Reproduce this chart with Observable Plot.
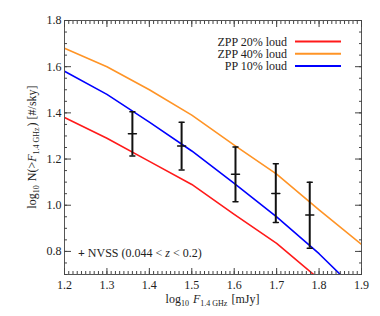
<!DOCTYPE html>
<html><head><meta charset="utf-8">
<script src="https://cdn.jsdelivr.net/npm/d3@7"></script>
<script src="https://cdn.jsdelivr.net/npm/@observablehq/plot@0.6"></script>
<style>
body{margin:0;background:#fff;}
svg{font-family:"Liberation Serif","Times New Roman",serif;}
</style>
</head><body><div id="chart"></div>
<script>
// ---- data ----
const fluxGrid = [1.2, 1.3, 1.4, 1.5, 1.6, 1.7, 1.8, 1.9];
const zpp20 = [1.38, 1.29, 1.19, 1.09, 0.96, 0.835, 0.68, null];
const zpp40 = [1.68, 1.60, 1.50, 1.39, 1.26, 1.135, 0.98, 0.83];
const pp10  = [1.58, 1.48, 1.36, 1.235, 1.095, 0.95, 0.79, 0.61];
const seriesNames = ["ZPP 20% loud", "ZPP 40% loud", "PP 10% loud"];
const seriesColors = ["#ff1a1a", "#ff9426", "#0000ff"];

const nvssX  = [1.360, 1.476, 1.603, 1.698, 1.778];
const nvssY  = [1.310, 1.257, 1.134, 1.051, 0.958];
const nvssLo = [1.213, 1.153, 1.015, 0.925, 0.814];
const nvssHi = [1.405, 1.359, 1.252, 1.180, 1.100];

const xTicks = [1.2, 1.3, 1.4, 1.5, 1.6, 1.7, 1.8, 1.9];
const yTicks = [0.8, 1.0, 1.2, 1.4, 1.6, 1.8];
const xMinor = d3.range(120, 191, 1).map(v => v / 100);
const yMinor = d3.range(70, 181, 5).map(v => v / 100);

// ---- tables ----
const curves = [];
[zpp20, zpp40, pp10].forEach((arr, i) => {
  arr.forEach((v, j) => { if (v != null) curves.push({series: seriesNames[i], x: fluxGrid[j], y: v}); });
});
const nvss = nvssX.map((x, i) => ({x, y: nvssY[i], lo: nvssLo[i], hi: nvssHi[i]}));

const hbar = {draw(ctx, l) { ctx.moveTo(0, 0); ctx.lineTo(0, -l); }};
const axisCol = "#444";
const blank = () => "";

const chart = Plot.plot({
  width: 380, height: 316,
  marginLeft: 64, marginRight: 19, marginTop: 20, marginBottom: 42,
  style: {fontFamily: "'Liberation Serif', 'Times New Roman', serif", fontSize: "12px", color: "#222", background: "#fff"},
  x: {domain: [1.2, 1.9]},
  y: {domain: [0.7, 1.8]},
  color: {domain: seriesNames, range: seriesColors},
  marks: [
    Plot.line(curves, {x: "x", y: "y", z: "series", stroke: "series", strokeWidth: 1.6, clip: true}),
    Plot.ruleX(nvss, {x: "x", y1: "lo", y2: "hi", stroke: "#111", strokeWidth: 2}),
    Plot.vector(nvss, {x: "x", y: "lo", rotate: 90, length: 5, anchor: "middle", shape: hbar, stroke: "#111", strokeWidth: 1.5}),
    Plot.vector(nvss, {x: "x", y: "hi", rotate: 90, length: 5, anchor: "middle", shape: hbar, stroke: "#111", strokeWidth: 1.5}),
    Plot.vector(nvss, {x: "x", y: "y", rotate: 90, length: 8, anchor: "middle", shape: hbar, stroke: "#111", strokeWidth: 1.5}),
    Plot.frame({stroke: "#555"}),
    Plot.axisX({anchor: "bottom", ticks: xTicks, tickSize: -6, tickPadding: 12, stroke: axisCol, label: null, tickFormat: d3.format(".1f")}),
    Plot.axisX({anchor: "bottom", ticks: xMinor, tickSize: -3, stroke: axisCol, label: null, tickFormat: blank}),
    Plot.axisX({anchor: "top", ticks: xTicks, tickSize: -6, stroke: axisCol, label: null, tickFormat: blank}),
    Plot.axisX({anchor: "top", ticks: xMinor, tickSize: -3, stroke: axisCol, label: null, tickFormat: blank}),
    Plot.axisY({anchor: "left", ticks: yTicks, tickSize: -7, tickPadding: 10, stroke: axisCol, label: null, tickFormat: d3.format(".1f")}),
    Plot.axisY({anchor: "left", ticks: yMinor, tickSize: -3, stroke: axisCol, label: null, tickFormat: blank}),
    Plot.axisY({anchor: "right", ticks: yTicks, tickSize: -7, stroke: axisCol, label: null, tickFormat: blank}),
    Plot.axisY({anchor: "right", ticks: yMinor, tickSize: -3, stroke: axisCol, label: null, tickFormat: blank})
  ]
});
document.getElementById("chart").appendChild(chart);

// ---- annotations: labels, legend ----
const svg = d3.select(chart);
const L = 64, R = 380 - 19, T = 20, B = 316 - 42;
const txtCol = "#222";

function sub(sel, s, size) {
  sel.append("tspan").attr("font-size", size).attr("dy", 3).text(s);
  sel.append("tspan").attr("dy", -3).text("\u200A");
}
// x label
const xl = svg.append("text").attr("x", (L + R) / 2).attr("y", 303)
  .attr("text-anchor", "middle").attr("fill", txtCol).attr("font-size", 12);
xl.append("tspan").text("log");
sub(xl, "10", 8);
xl.append("tspan").text(" ");
xl.append("tspan").attr("font-style", "italic").text("F");
sub(xl, "1.4 GHz", 8);
xl.append("tspan").text(" [mJy]");

// y label
const yl = svg.append("text").attr("transform", `translate(36,${(T + B) / 2}) rotate(-90)`)
  .attr("text-anchor", "middle").attr("fill", txtCol).attr("font-size", 12);
yl.append("tspan").text("log");
sub(yl, "10", 8);
yl.append("tspan").text(" N(>");
yl.append("tspan").attr("font-style", "italic").text("F");
sub(yl, "1.4 GHz", 8);
yl.append("tspan").text(") [#/sky]");

// legend
seriesNames.forEach((name, i) => {
  const y = T + 21.5 + i * 12.2;
  svg.append("text").attr("x", R - 74).attr("y", y + 4).attr("text-anchor", "end")
    .attr("fill", txtCol).attr("font-size", 12).text(name);
  svg.append("line").attr("x1", R - 66).attr("x2", R - 20).attr("y1", y).attr("y2", y)
    .attr("stroke", seriesColors[i]).attr("stroke-width", 2);
});

// NVSS note
const nt = svg.append("text").attr("x", L + 14).attr("y", B - 17.5).attr("text-anchor", "start")
  .attr("fill", txtCol).attr("font-size", 12);
nt.append("tspan").attr("font-weight", "bold").text("+ ");
nt.append("tspan").text("NVSS (0.044 < ");
nt.append("tspan").attr("font-style", "italic").text("z");
nt.append("tspan").text(" < 0.2)");
</script>
</body></html>
